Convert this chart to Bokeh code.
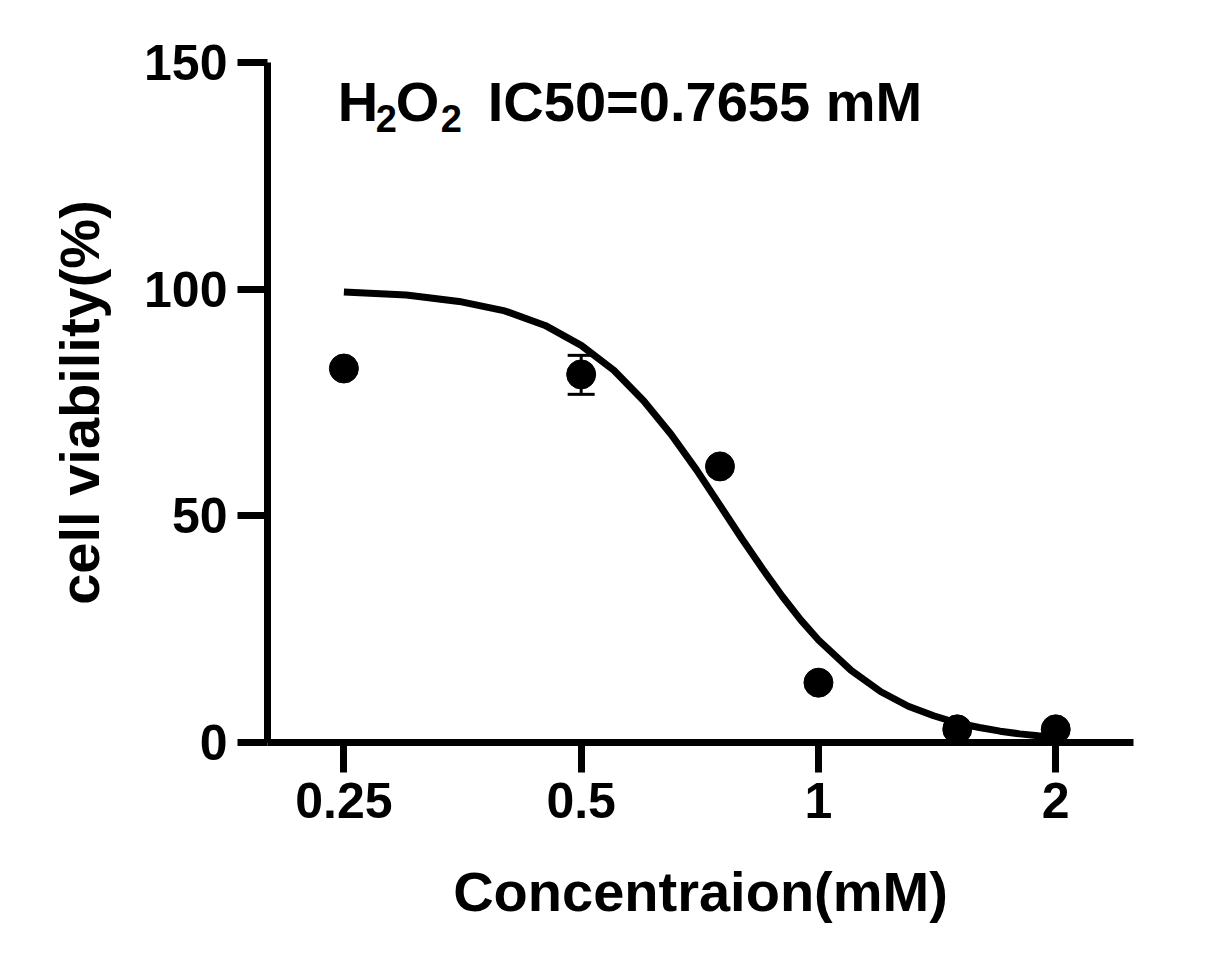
from bokeh.plotting import figure
from bokeh.models import ColumnDataSource, Range1d, FixedTicker, Whisker, TeeHead, Label
from bokeh.embed import file_html
from bokeh.resources import INLINE


# mean cell viability per concentration (mM)
conc = [0.25, 0.5, 0.75, 1.0, 1.5, 2.0]
viability = [82.5, 81.2, 60.9, 13.2, 2.9, 2.9]
err_upper = [82.5, 85.4, 60.9, 13.2, 2.9, 2.9]
err_lower = [82.5, 76.8, 60.9, 13.2, 2.9, 2.9]

# fitted curve
curve_x = [0.25, 0.3, 0.35, 0.4, 0.45, 0.5, 0.55, 0.6, 0.65, 0.7, 0.75, 0.8, 0.85,
           0.9, 0.95, 1.0, 1.1, 1.2, 1.3, 1.4, 1.5, 1.6, 1.7, 1.8, 1.9, 2.0]
curve_y = [99.4, 98.7, 97.3, 95.2, 92.0, 87.6, 82.1, 75.4, 68.0, 60.2, 52.3, 44.9, 38.2,
           32.2, 27.0, 22.6, 15.9, 11.2, 8.0, 5.9, 4.3, 3.3, 2.5, 1.9, 1.5, 1.2]

x_ticks = [0.25, 0.5, 1, 2]
x_tick_labels = ["0.25", "0.5", "1", "2"]
y_ticks = [0, 50, 100, 150]

# title pieces: (text, x offset px, is subscript)
title_parts = [("H", 0, False), ("2", 38, True), ("O", 58, False),
               ("2", 103, True), ("IC50=0.7655 mM", 150, False)]

FONT = "Liberation Sans"


def chart():

    p = figure(width=1200, height=935, x_axis_type="log",
               x_range=Range1d(0.2, 2.51), y_range=Range1d(0, 150),
               output_backend="svg", toolbar_location=None,
               min_border_left=267, min_border_right=67,
               min_border_top=62, min_border_bottom=193)

    p.grid.visible = False
    p.outline_line_color = None

    # curve
    p.line(curve_x, curve_y, line_color="black", line_width=7)

    # error bars
    src = ColumnDataSource(dict(x=conc, upper=err_upper, lower=err_lower))
    w = Whisker(base="x", upper="upper", lower="lower", source=src,
                line_color="black", line_width=3,
                upper_head=TeeHead(size=27, line_width=3, line_color="black"),
                lower_head=TeeHead(size=27, line_width=3, line_color="black"))
    p.add_layout(w)

    p.scatter(conc, viability, size=29, color="black")

    # axes
    for ax in [p.xaxis[0], p.yaxis[0]]:
        ax.axis_line_width = 7
        ax.major_tick_line_width = 7
        ax.major_tick_out = 30
        ax.major_tick_in = 0
        ax.minor_tick_line_color = None
        ax.major_label_text_font = FONT
        ax.major_label_text_font_style = "bold"
        ax.major_label_text_font_size = "50px"
        ax.major_label_text_color = "black"
        ax.axis_label_text_font = FONT
        ax.axis_label_text_font_style = "bold"
        ax.axis_label_text_font_size = "56px"
        ax.axis_label_text_color = "black"

    p.xaxis.ticker = FixedTicker(ticks=x_ticks)
    p.xaxis.major_label_overrides = dict(zip(x_ticks, x_tick_labels))
    p.xaxis.major_label_standoff = 10
    p.xaxis.axis_label = "Concentraion(mM)"
    p.xaxis.axis_label_standoff = 39

    p.yaxis.ticker = FixedTicker(ticks=y_ticks)
    p.yaxis.major_label_standoff = 10
    p.yaxis.axis_label = "cell viability(%)"
    p.yaxis.axis_label_standoff = 30

    # title with subscripts
    for txt, dx, sub in title_parts:
        p.add_layout(Label(x=0.2456, y=137.6 if sub else 141.4, x_offset=dx,
                           text=txt, text_baseline="alphabetic",
                           text_font=FONT, text_font_style="bold",
                           text_font_size="38px" if sub else "56px",
                           text_color="black"))

    return p


if __name__ == "__main__":
    p = chart()
    open("out.html", "w").write(file_html(p, INLINE))
